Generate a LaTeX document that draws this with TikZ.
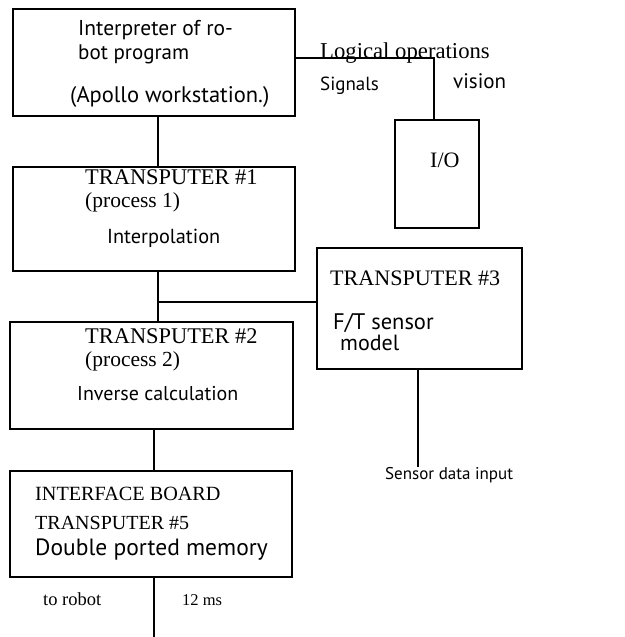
\documentclass[tikz,border=0pt]{standalone}
\usepackage{fontspec}
\setmainfont{Liberation Serif}
\newfontfamily\hum{PT Sans}
\begin{document}
\begin{tikzpicture}[x=1pt,y=-1pt,
  box/.style={draw,line width=1.6pt,rectangle,inner sep=0pt},
  lbl/.style={inner sep=0pt,anchor=west,text height=0.7em,text depth=0.2em},
  sf/.style={lbl,font=\hum\fontsize{#1}{#1}\selectfont},
  rm/.style={lbl,font=\fontsize{#1}{#1}\selectfont},
  wire/.style={line width=1.6pt}]
\useasboundingbox (0,0) rectangle (624,637);
% boxes
\node[box,minimum width=282pt,minimum height=107pt] (interp) at (154,62.5) {};
\node[box,minimum width=282pt,minimum height=104pt] (tp1) at (154,219) {};
\node[box,minimum width=205pt,minimum height=121pt] (tp3) at (419.5,308.5) {};
\node[box,minimum width=283pt,minimum height=107pt] (tp2) at (151.5,375.5) {};
\node[box,minimum width=282pt,minimum height=106pt] (ifb) at (151,524) {};
\node[box,minimum width=84pt,minimum height=108pt] (io) at (437,174) {};
% texts
\node[sf=21.5] (t1a) at (78,33) {Interpreter of ro-};
\node[sf=21] (t1b) at (78,57) {bot program};
\node[sf=22.5] (t1c) at (70,100) {(Apollo workstation.)};
\node[rm=22.7] (lo) at (320,56) {Logical operations};
\node[sf=19] (sig) at (320,88) {Signals};
\node[sf=21] (vis) at (453,86) {vision};
\node[rm=22] (iot) at (430,165) {I/O};
\node[rm=22.4] (t2a) at (85,182) {TRANSPUTER \#1};
\node[rm=21.5] (t2b) at (85,205) {(process 1)};
\node[sf=20.3] (t2c) at (107,241) {Interpolation};
\node[rm=22.1] (t3a) at (330,283) {TRANSPUTER \#3};
\node[sf=22.5] (t3b) at (333,327) {F/T sensor};
\node[sf=22] (t3c) at (340,348) {model};
\node[rm=22.4] (t4a) at (85,341) {TRANSPUTER \#2};
\node[rm=21.5] (t4b) at (85,364) {(process 2)};
\node[sf=20] (t4c) at (77,398) {Inverse calculation};
\node[sf=17] (sdi) at (385,477) {Sensor data input};
\node[rm=20.2] (t5a) at (35,498) {INTERFACE BOARD};
\node[rm=20] (t5b) at (35,527) {TRANSPUTER \#5};
\node[sf=23.5] (t5c) at (35,553) {Double ported memory};
\node[rm=18.5] (rob) at (43,603) {to robot};
\node[rm=16.5] (ms) at (182,603) {12 ms};
% connectors
\coordinate (j) at (158,302);
\coordinate (sens) at (418,467);
\coordinate (out) at (154,637);
\draw[wire] ([xshift=4pt]interp.south) -- ([xshift=4pt]tp1.north);
\draw[wire] ([xshift=4pt]tp1.south) -- ([xshift=6.5pt]tp2.north);
\draw[wire] (j) -- (j -| tp3.west);
\draw[wire] ([yshift=4.5pt]interp.east) -| ([xshift=-3pt]io.north);
\draw[wire] ([xshift=-1.5pt]tp3.south) -- (sens);
\draw[wire] ([xshift=3pt]ifb.south) -- (out);
\draw[wire] ([xshift=2.5pt]tp2.south) -- ([xshift=3pt]ifb.north);
\end{tikzpicture}
\end{document}
